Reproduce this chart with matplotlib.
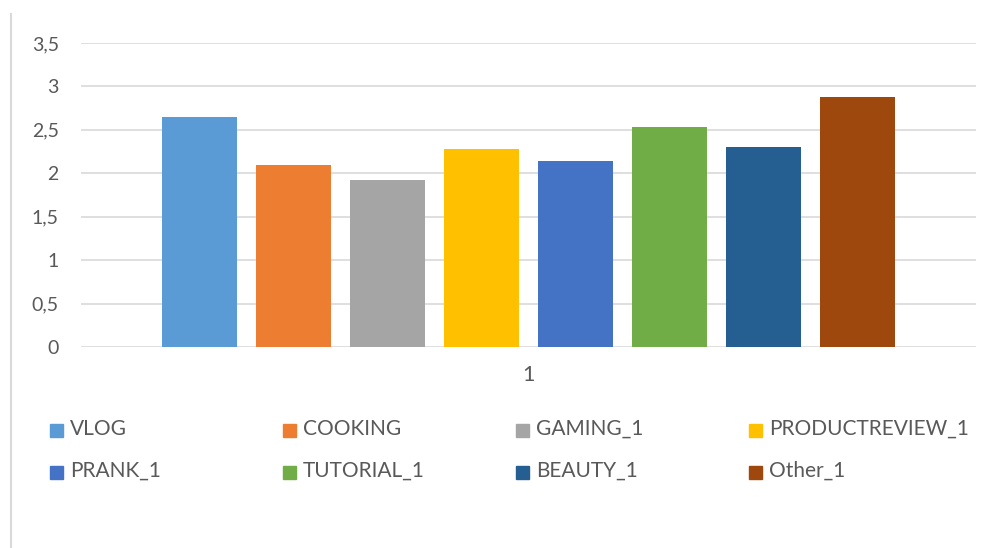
import matplotlib
matplotlib.use("Agg")
import matplotlib.pyplot as plt
from matplotlib.patches import Rectangle
from matplotlib.lines import Line2D
from matplotlib.ticker import FuncFormatter

categories = ["VLOG", "COOKING", "GAMING_1", "PRODUCTREVIEW_1",
              "PRANK_1", "TUTORIAL_1", "BEAUTY_1", "Other_1"]
values = [2.65, 2.09, 1.92, 2.28, 2.14, 2.53, 2.30, 2.88]
colors = ["#5B9BD5", "#ED7D31", "#A5A5A5", "#FFC000",
          "#4472C4", "#70AD47", "#255E91", "#9E480E"]
x_label = ["1"]
y_ticks = [0, 0.5, 1, 1.5, 2, 2.5, 3, 3.5]

plt.rcParams['font.family'] = ['Lato', 'DejaVu Sans']
txt_color = "#595959"

W, H = 994, 548
fig = plt.figure(figsize=(W / 100, H / 100), dpi=100)
ax = fig.add_axes([81 / W, 1 - 347 / H, (976 - 81) / W, (347 - 43) / H])

pitch = 94 / 895
bw = 75 / 895
n = len(categories)
for i, (v, c) in enumerate(zip(values, colors)):
    ax.bar((i - (n - 1) / 2) * pitch, v, width=bw, color=c, zorder=3)

ax.set_xlim(-0.5, 0.5)
ax.set_ylim(0, 3.5)
ax.set_yticks(y_ticks)
ax.yaxis.set_major_formatter(FuncFormatter(lambda v, p: (f"{v:g}").replace(".", ",")))
ax.set_xticks([0])
ax.set_xticklabels(x_label)
ax.grid(axis="y", color="#D9D9D9", linewidth=1.2, zorder=0)
for s in ax.spines.values():
    s.set_visible(False)
ax.tick_params(axis="both", length=0, labelcolor=txt_color)
ax.tick_params(axis="y", pad=16, labelsize=14)
ax.tick_params(axis="x", pad=13, labelsize=15.5)

# chart border on the left
fig.add_artist(Line2D([11 / W, 11 / W], [0, 1 - 14 / H], color="#D9D9D9", linewidth=1.5))

# legend (Excel-style, equal columns)
col_x = [50, 283, 516, 749]
row_base = [435, 477]
sq = 13
for i, (name, c) in enumerate(zip(categories, colors)):
    cx = col_x[i % 4]
    by = row_base[i // 4]
    fig.add_artist(Rectangle((cx / W, 1 - (by + 2) / H), sq / W, sq / H,
                             transform=fig.transFigure, color=c))
    fig.text((cx + 20) / W, 1 - by / H, name, fontsize=15, color=txt_color,
             va="baseline", ha="left")

fig.savefig("out.png", dpi=100)
